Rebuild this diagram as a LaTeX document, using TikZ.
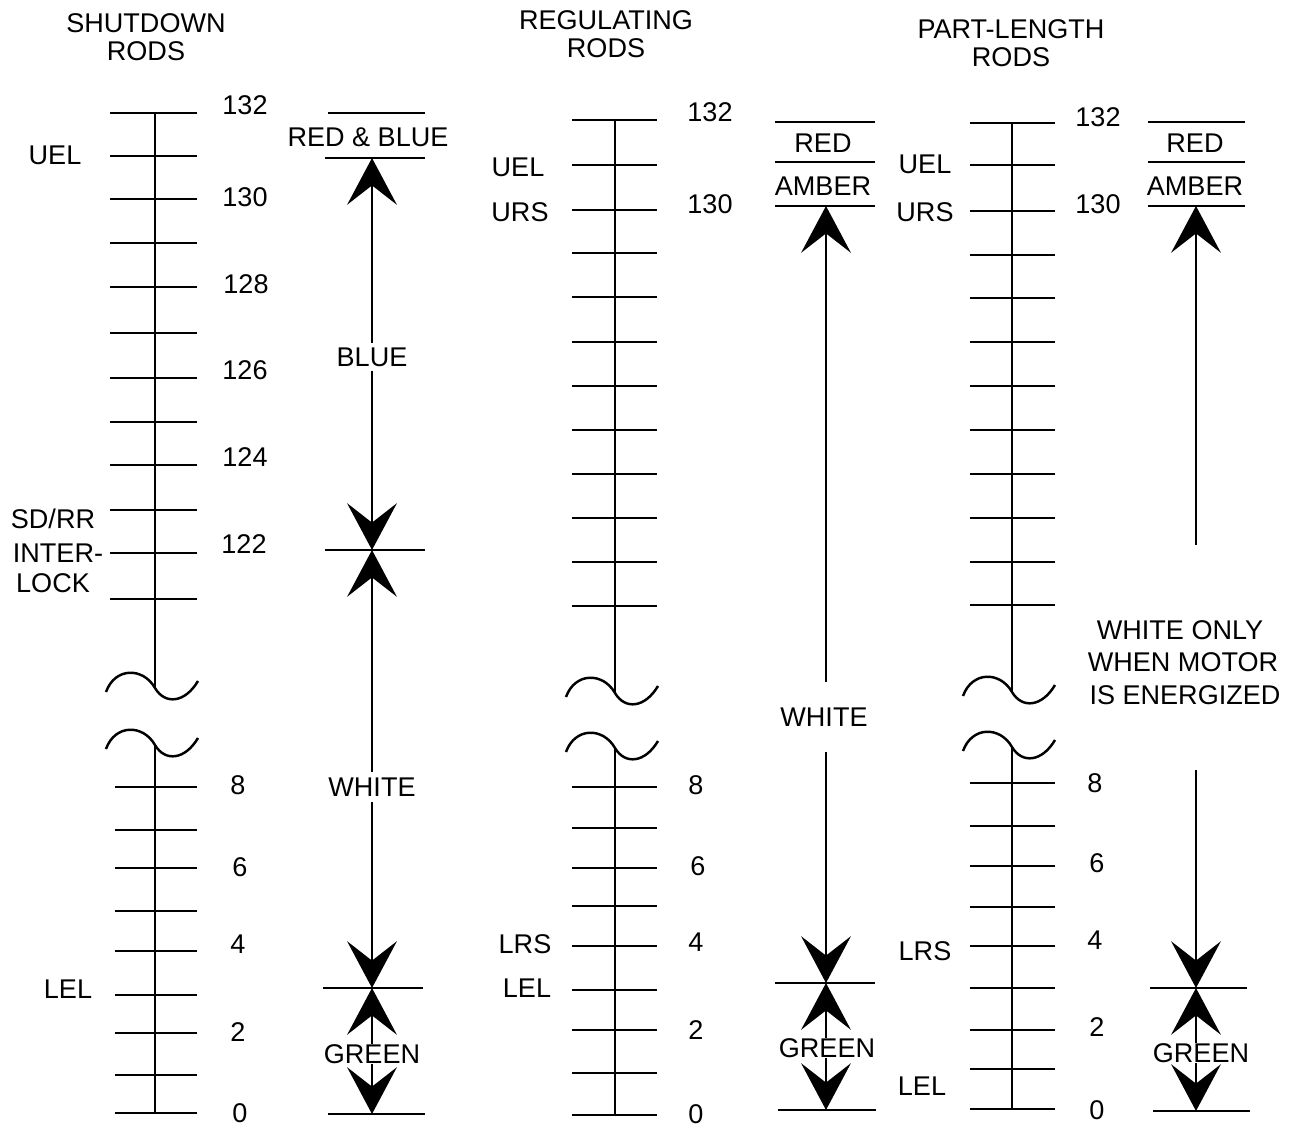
\documentclass[tikz,border=0pt]{standalone}
\usepackage{fontspec}
\setmainfont{Liberation Sans}
\usetikzlibrary{arrows.meta}
\tikzset{
  wavebreak/.pic={\draw[line width=1.4pt] (-49,4) .. controls (-40,-21) and (-12,-21) .. (0,0) .. controls (10,17) and (30,15) .. (43,-7);}
}
\begin{document}
\begin{tikzpicture}[x=0.02cm,y=-0.02cm,
  every node/.style={font=\fontsize{15.4}{17}\selectfont, inner sep=0pt, text height=11pt, text depth=0pt},
  title/.style={align=center, font=\fontsize{15.4}{16}\selectfont, text height=, text depth=},
  tick/.style={line width=1.6pt},
  axis/.style={line width=1.6pt},
  bar/.style={line width=1.5pt},
  arr/.style={line width=1.2pt, -{Stealth[length=26.6pt,width=28.3pt,inset=11pt]}},
]
\useasboundingbox (0,0) rectangle (1299,1129);

% ---------- titles ----------
\node[title] (t1) at (146,37) {SHUTDOWN\\RODS};
\node[title] (t2) at (606,34) {REGULATING\\RODS};
\node[title] (t3) at (1011,43) {PART-LENGTH\\RODS};

% ---------- column 1 scale ----------
\foreach \y in {113,156,199,243,287,333,378,422,465,510,553,599}
  \draw[tick] (110,\y) -- (197,\y);
\foreach \y in {787,830,868,911,951,995,1033,1075,1113}
  \draw[tick] (115,\y) -- (197,\y);
\draw[axis] (155,113) -- (155,688);
\draw[axis] (155,745) -- (155,1113);
\pic at (155,688) {wavebreak};
\pic at (155,745) {wavebreak};
\node (n1a) at (245,105) {132};
\node (n1b) at (245,197) {130};
\node (n1c) at (246,284) {128};
\node (n1d) at (245,370) {126};
\node (n1e) at (245,457) {124};
\node (n1f) at (244,544) {122};
\node (n1g) at (238,785) {8};
\node (n1h) at (240,867) {6};
\node (n1i) at (238,944) {4};
\node (n1j) at (238,1032) {2};
\node (n1k) at (240,1113) {0};
\node (l1a) at (55,155) {UEL};
\node (l1b) at (53,519) {SD/RR};
\node (l1c) at (58,553) {INTER-};
\node (l1d) at (53,583) {LOCK};
\node (l1e) at (68,989) {LEL};

% ---------- column 1 indication ----------
\draw[bar] (328,113) -- (425,113);
\draw[bar] (325,158) -- (425,158);
\draw[bar] (325,550) -- (425,550);
\draw[bar] (323,988) -- (423,988);
\draw[bar] (328,1114) -- (425,1114);
\node (rb1) at (368,137) {RED \& BLUE};
\coordinate (a1top) at (372,158);
\coordinate (a1x1) at (372,550);
\coordinate (a1x2) at (372,988);
\coordinate (a1bot) at (372,1114);
\node[inner ysep=2pt] (blue1) at (372,357) {BLUE};
\node[inner ysep=3pt] (white1) at (372,787) {WHITE};
\node (green1) at (372,1054) {GREEN};
\draw[arr] (blue1) -- (a1top);
\draw[arr] (blue1) -- (a1x1);
\draw[arr] (white1) -- (a1x1);
\draw[arr] (white1) -- (a1x2);
\draw[arr] (green1.north -| a1x2) -- (a1x2);
\draw[arr] (green1.south -| a1bot) -- (a1bot);

% ---------- column 2 scale ----------
\foreach \y in {120,165,210,253,297,342,386,430,474,518,562,606}
  \draw[tick] (572,\y) -- (657,\y);
\foreach \y in {787,828,868,906,946,990,1030,1073,1115}
  \draw[tick] (572,\y) -- (657,\y);
\draw[axis] (615,120) -- (615,693);
\draw[axis] (615,748) -- (615,1115);
\pic at (615,693) {wavebreak};
\pic at (615,748) {wavebreak};
\node (n2a) at (710,112) {132};
\node (n2b) at (710,204) {130};
\node (n2c) at (696,785) {8};
\node (n2d) at (698,866) {6};
\node (n2e) at (696,942) {4};
\node (n2f) at (696,1030) {2};
\node (n2g) at (696,1114) {0};
\node (l2a) at (518,167) {UEL};
\node (l2b) at (520,212) {URS};
\node (l2c) at (525,944) {LRS};
\node (l2d) at (527,988) {LEL};

% ---------- column 2 indication ----------
\draw[bar] (775,122) -- (875,122);
\draw[bar] (775,162) -- (875,162);
\draw[bar] (775,206) -- (875,206);
\draw[bar] (775,983) -- (875,983);
\draw[bar] (778,1110) -- (876,1110);
\node (red2) at (823,143) {RED};
\node (amb2) at (823,186) {AMBER};
\coordinate (a2top) at (826,206);
\coordinate (a2x) at (826,983);
\coordinate (a2bot) at (826,1110);
\node[inner ysep=14pt] (white2) at (824,717) {WHITE};
\node (green2) at (827,1048) {GREEN};
\draw[arr] (white2.north -| a2top) -- (a2top);
\draw[arr] (white2.south -| a2x) -- (a2x);
\draw[arr] (green2.north -| a2x) -- (a2x);
\draw[arr] (green2.south -| a2bot) -- (a2bot);

% ---------- column 3 scale ----------
\foreach \y in {123,165,211,255,298,342,386,430,474,518,562,605}
  \draw[tick] (970,\y) -- (1055,\y);
\foreach \y in {783,826,866,907,946,988,1030,1069,1109}
  \draw[tick] (970,\y) -- (1055,\y);
\draw[axis] (1012,123) -- (1012,692);
\draw[axis] (1012,747) -- (1012,1109);
\pic at (1012,692) {wavebreak};
\pic at (1012,747) {wavebreak};
\node (n3a) at (1098,117) {132};
\node (n3b) at (1098,204) {130};
\node (n3c) at (1095,783) {8};
\node (n3d) at (1097,863) {6};
\node (n3e) at (1095,940) {4};
\node (n3f) at (1097,1027) {2};
\node (n3g) at (1097,1110) {0};
\node (l3a) at (925,164) {UEL};
\node (l3b) at (925,212) {URS};
\node (l3c) at (925,951) {LRS};
\node (l3d) at (922,1086) {LEL};

% ---------- column 3 indication ----------
\draw[bar] (1148,122) -- (1245,122);
\draw[bar] (1148,162) -- (1245,162);
\draw[bar] (1148,206) -- (1245,206);
\draw[bar] (1150,988) -- (1247,988);
\draw[bar] (1153,1111) -- (1250,1111);
\node (red3) at (1195,143) {RED};
\node (amb3) at (1195,186) {AMBER};
\coordinate (a3top) at (1196,206);
\coordinate (a3x) at (1196,988);
\coordinate (a3bot) at (1196,1111);
\coordinate (w3a) at (1196,545);
\coordinate (w3b) at (1196,770);
\node (wo1) at (1180,630) {WHITE ONLY};
\node (wo2) at (1183,662) {WHEN MOTOR};
\node (wo3) at (1185,695) {IS ENERGIZED};
\node (green3) at (1201,1053) {GREEN};
\draw[arr] (w3a) -- (a3top);
\draw[arr] (w3b) -- (a3x);
\draw[arr] (green3.north -| a3x) -- (a3x);
\draw[arr] (green3.south -| a3bot) -- (a3bot);
\end{tikzpicture}
\end{document}
